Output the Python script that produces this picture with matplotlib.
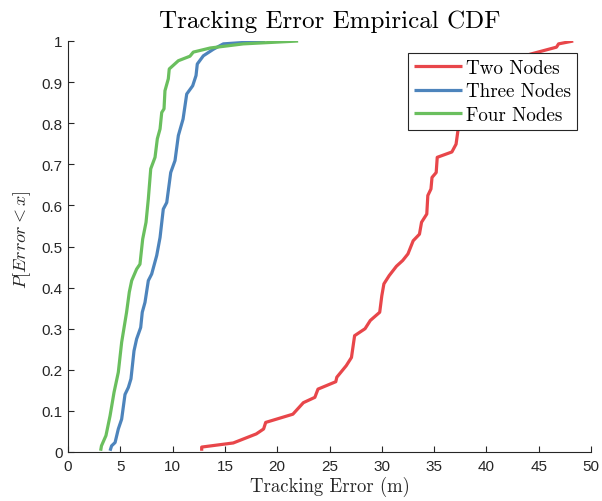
import matplotlib
matplotlib.use("Agg")
import matplotlib.pyplot as plt

plt.rcParams['mathtext.fontset'] = 'cm'

# Two Nodes (red)
two_x = [12.78, 12.78, 15.8, 18.0, 18.7, 18.9, 21.5, 22.5, 23.6, 23.9, 25.6, 25.7, 26.6, 27.1,
         27.4, 28.4, 28.9, 29.8, 30.0, 30.2, 30.7, 31.4, 32.0, 32.5, 33.0, 33.6, 33.8, 34.3,
         34.4, 34.7, 34.8, 35.2, 35.3, 36.7, 37.1, 37.3, 37.7, 38.5, 39.8, 41.5, 43.0, 44.2,
         46.7, 46.9, 48.3]
two_y = [0.003, 0.012, 0.022, 0.044, 0.056, 0.072, 0.092, 0.12, 0.133, 0.153, 0.171, 0.182, 0.21, 0.23,
         0.283, 0.30, 0.32, 0.34, 0.38, 0.409, 0.429, 0.452, 0.466, 0.482, 0.514, 0.53, 0.559, 0.579,
         0.624, 0.64, 0.668, 0.68, 0.717, 0.73, 0.749, 0.786, 0.83, 0.87, 0.91, 0.94, 0.958, 0.968,
         0.985, 0.993, 1.0]

# Three Nodes (blue)
three_x = [4.02, 4.17, 4.5, 4.81, 5.13, 5.45, 5.77, 6.02, 6.31, 6.56, 6.95, 7.1, 7.36, 7.68, 8.0,
           8.48, 8.8, 9.11, 9.44, 9.82, 10.23, 10.55, 11.0, 11.35, 11.92, 12.24, 12.36, 12.94,
           13.9, 14.85, 18.83]
three_y = [0.003, 0.015, 0.023, 0.056, 0.08, 0.14, 0.157, 0.178, 0.246, 0.275, 0.303, 0.34, 0.364,
           0.417, 0.433, 0.478, 0.522, 0.591, 0.607, 0.68, 0.709, 0.77, 0.81, 0.871, 0.891, 0.916,
           0.944, 0.964, 0.98, 0.993, 1.0]

# Four Nodes (green)
four_x = [3.12, 3.2, 3.63, 4.02, 4.4, 4.81, 5.13, 5.6, 5.86, 6.09, 6.56, 6.88, 7.14, 7.46, 7.68,
          7.91, 8.32, 8.54, 8.8, 8.96, 9.18, 9.27, 9.59, 9.68, 10.55, 11.66, 11.98, 13.6, 16.76, 22.0]
four_y = [0.003, 0.015, 0.04, 0.088, 0.145, 0.194, 0.267, 0.34, 0.389, 0.417, 0.445, 0.457, 0.518,
          0.559, 0.616, 0.689, 0.717, 0.762, 0.786, 0.826, 0.835, 0.879, 0.908, 0.932, 0.952, 0.963,
          0.973, 0.983, 0.993, 1.0]

labels = ["Two Nodes", "Three Nodes", "Four Nodes"]
colors = ["#E8464A", "#4D84BC", "#6ABF5E"]

x_ticks = [0, 5, 10, 15, 20, 25, 30, 35, 40, 45, 50]
y_ticks = [0, 0.1, 0.2, 0.3, 0.4, 0.5, 0.6, 0.7, 0.8, 0.9, 1]
y_tick_labels = ["0", "0.1", "0.2", "0.3", "0.4", "0.5", "0.6", "0.7", "0.8", "0.9", "1"]

fig = plt.figure(figsize=(6.02, 5.02), dpi=100)
ax = fig.add_axes([68/602, 49/502, 523/602, 411/502])

axc = "#262626"
for xs, ys, lab, c in zip([two_x, three_x, four_x], [two_y, three_y, four_y], labels, colors):
    ax.plot(xs, ys, color=c, lw=2.3, label=lab, solid_joinstyle='round', solid_capstyle='butt')

ax.set_xlim(0, 50)
ax.set_ylim(0, 1)
ax.set_xticks(x_ticks)
ax.set_yticks(y_ticks)
ax.set_yticklabels(y_tick_labels)
ax.spines['top'].set_visible(False)
ax.spines['right'].set_visible(False)
for s in ['left', 'bottom']:
    ax.spines[s].set_color(axc)
    ax.spines[s].set_linewidth(0.8)
ax.tick_params(direction='in', length=4, width=0.8, color=axc, labelcolor=axc, labelsize=11)
for t in ax.get_xticklabels() + ax.get_yticklabels():
    t.set_fontfamily('Liberation Sans')
ax.tick_params(axis='x', pad=5)
ax.tick_params(axis='y', pad=4)

ax.set_title("Tracking Error Empirical CDF", fontfamily='cmr10', fontsize=18, pad=10, color='black')
ax.set_xlabel("Tracking Error (m)", fontfamily='cmr10', fontsize=13.5, color=axc, labelpad=2)
ax.set_ylabel(r"$P[Error<x]$", fontsize=13, color=axc)
ax.yaxis.set_label_coords(-0.067, 0.52)

leg = ax.legend(loc='upper right', bbox_to_anchor=((577-68)/523, 1 - (54-42)/411),
                bbox_transform=ax.transAxes, prop={'family': 'cmr10', 'size': 13.7},
                frameon=True, fancybox=False, edgecolor=axc, framealpha=1,
                handlelength=2.5, handletextpad=0.25, borderpad=0.3, labelspacing=0.3,
                borderaxespad=0)
leg.get_frame().set_linewidth(0.8)

fig.savefig("out.png", dpi=100)
